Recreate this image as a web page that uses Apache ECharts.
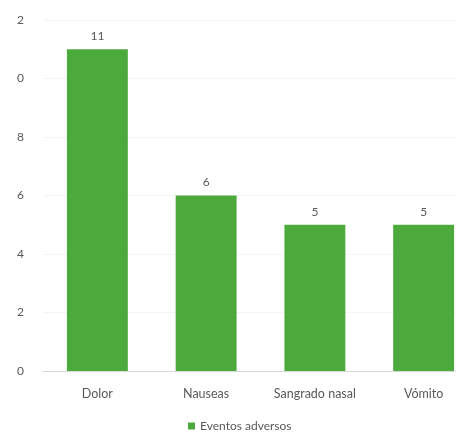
<!DOCTYPE html>
<html>
<head>
<meta charset="utf-8">
<script src="https://cdn.jsdelivr.net/npm/echarts@6/dist/echarts.min.js"></script>
<style>
  html, body { margin: 0; padding: 0; background: #fff; overflow: hidden; }
  /* plot area runs slightly past the right edge of the window */
  #chart { width: 478px; height: 438px; }
</style>
</head>
<body>
<div id="chart"></div>
<script>
// Adverse events by type
const categories = ['Dolor', 'Nauseas', 'Sangrado nasal', 'Vómito'];
const seriesName = 'Eventos adversos';
const eventCounts = [11, 6, 5, 5];
// Tick labels as printed along the value axis (0 to 12, step 2)
const tickValues = [0, 2, 4, 6, 8, 10, 12];
const tickLabels = ['0', '2', '4', '6', '8', '0', '2'];

const labelColor = '#595959';
const fontFamily = 'Lato, "Open Sans", sans-serif';

const chart = echarts.init(document.getElementById('chart'));
chart.setOption({
  animation: false,
  grid: { left: 43, right: 0, top: 20, bottom: 67 },
  legend: {
    bottom: 1,
    left: 183,
    itemWidth: 7,
    itemHeight: 7,
    icon: 'rect',
    itemGap: 4,
    textStyle: { color: labelColor, fontSize: 12, fontFamily: fontFamily },
    data: [seriesName]
  },
  xAxis: {
    type: 'category',
    data: categories,
    axisLine: { lineStyle: { color: '#d9d9d9' } },
    axisTick: { show: false },
    axisLabel: { color: labelColor, fontSize: 12.5, fontFamily: fontFamily, margin: 16 }
  },
  yAxis: {
    type: 'value',
    min: 0,
    max: 12,
    interval: 2,
    axisLine: { show: false },
    axisTick: { show: false },
    splitLine: { lineStyle: { color: '#f4f4f4' } },
    axisLabel: {
      color: labelColor,
      fontSize: 12,
      fontFamily: fontFamily,
      margin: 19,
      formatter: function (v) {
        const i = tickValues.indexOf(v);
        return i >= 0 ? tickLabels[i] : '';
      }
    }
  },
  series: [{
    name: seriesName,
    type: 'bar',
    data: eventCounts,
    barCategoryGap: '44%',
    itemStyle: { color: '#4caa3c' },
    label: {
      show: true,
      position: 'top',
      distance: 7,
      color: labelColor,
      fontSize: 12,
      fontFamily: fontFamily
    }
  }]
});
</script>
</body>
</html>
